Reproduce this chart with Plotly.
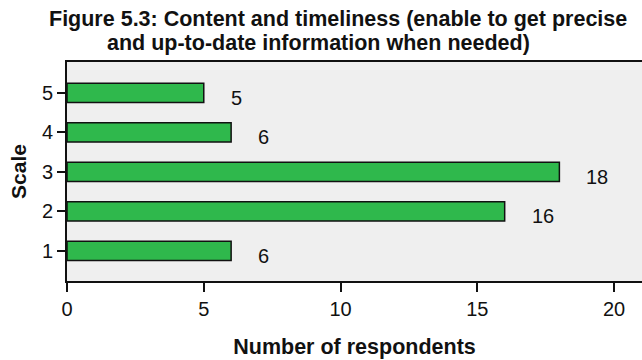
import plotly.graph_objects as go

# Survey responses per scale point
scale = [1, 2, 3, 4, 5]
respondents = [6, 16, 18, 6, 5]
x_ticks = [0, 5, 10, 15, 20]

title_lines = [
    "Figure 5.3: Content and timeliness (enable to get precise",
    "and up-to-date information when needed)",
]

W, H = 642, 360
M_L, M_R, M_T, M_B = 67, 0, 62, 79
FONT = "Liberation Sans, Arial, sans-serif"
INK = "#111111"


def px_to_paper(px, py):
    """Convert a pixel position on the page to paper coordinates."""
    pw = W - M_L - M_R
    ph = H - M_T - M_B
    return (px - M_L) / pw, (H - M_B - py) / ph


fig = go.Figure()
fig.add_trace(go.Bar(
    x=respondents,
    y=scale,
    orientation="h",
    width=0.49,
    marker=dict(color="#2fb84c", line=dict(color=INK, width=1.5)),
    hoverinfo="x+y",
))

# Value labels to the right of each bar
for s, v in zip(scale, respondents):
    fig.add_annotation(
        x=v, y=s, text=str(v), showarrow=False,
        xanchor="left", yanchor="middle", xshift=25, yshift=-5,
        font=dict(family=FONT, size=20, color=INK),
    )

# Two-line bold heading
for (cx, cy), line in zip([(338, 19), (318, 43)], title_lines):
    ax, ay = px_to_paper(cx, cy)
    fig.add_annotation(
        x=ax, y=ay, xref="paper", yref="paper", text=f"<b>{line}</b>",
        showarrow=False, xanchor="center", yanchor="middle",
        font=dict(family=FONT, size=21.5, color=INK),
    )

fig.update_layout(
    width=W, height=H,
    margin=dict(l=M_L, r=M_R, t=M_T, b=M_B),
    paper_bgcolor="white",
    plot_bgcolor="#efefef",
    showlegend=False,
    xaxis=dict(
        range=[0, 21.02], tickvals=x_ticks, showgrid=False, zeroline=False,
        showline=True, linecolor=INK, linewidth=2, mirror=True,
        ticks="outside", ticklen=9, tickwidth=2, tickcolor=INK,
        tickfont=dict(family=FONT, size=20, color=INK),
        title=dict(text="<b>Number of respondents</b>", standoff=20,
                   font=dict(family=FONT, size=21.5, color=INK)),
    ),
    yaxis=dict(
        range=[0.236, 5.78], tickvals=scale, showgrid=False, zeroline=False,
        showline=True, linecolor=INK, linewidth=2,
        ticks="outside", ticklen=8, tickwidth=2, tickcolor=INK,
        tickfont=dict(family=FONT, size=20, color=INK),
        title=dict(text="<b>Scale</b>", standoff=10,
                   font=dict(family=FONT, size=21, color=INK)),
    ),
)

fig.write_html("out.html")
